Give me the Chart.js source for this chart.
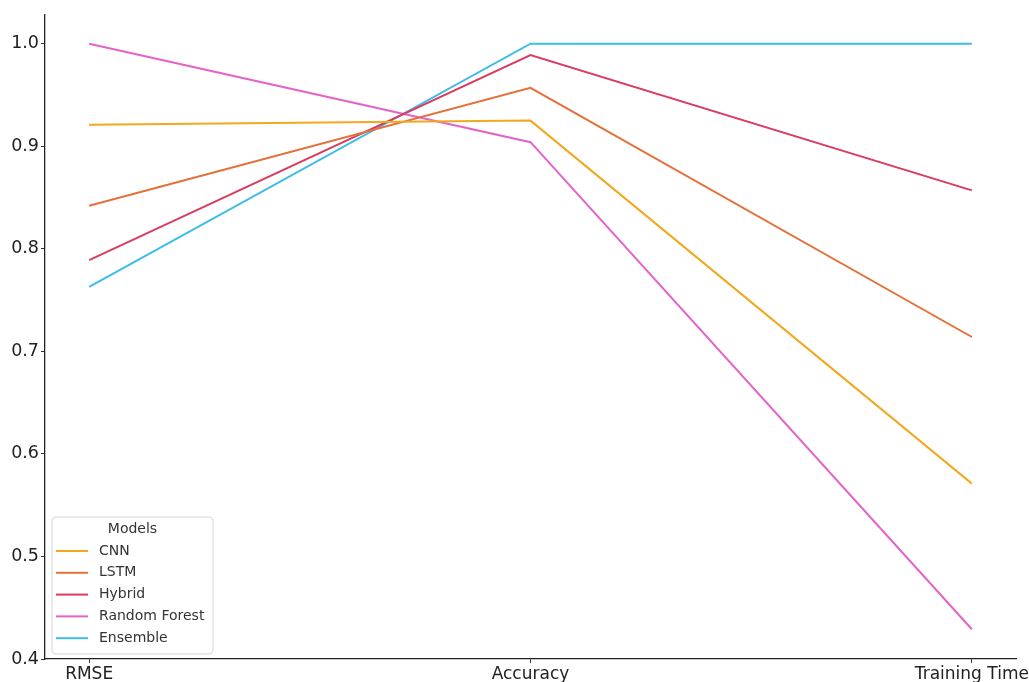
<!DOCTYPE html>
<html>
<head>
<meta charset="utf-8">
<script src="https://cdn.jsdelivr.net/npm/chart.js@4"></script>
<style>
  html, body { margin: 0; padding: 0; background: #fff; }
  #wrap { width: 1029px; height: 682px; position: relative; }
</style>
</head>
<body>
<div id="wrap"><canvas id="c" width="1029" height="682"></canvas></div>
<script>
const categories = ["RMSE", "Accuracy", "Training Time"];
const seriesNames = ["CNN", "LSTM", "Hybrid", "Random Forest", "Ensemble"];
const cnnValues = [0.921, 0.925, 0.571];
const lstmValues = [0.842, 0.957, 0.714];
const hybridValues = [0.789, 0.989, 0.857];
const randomForestValues = [1.0, 0.904, 0.429];
const ensembleValues = [0.763, 1.0, 1.0];
const yTickValues = [0.4, 0.5, 0.6, 0.7, 0.8, 0.9, 1.0];
const legendTitle = "Models";

const seriesValues = [cnnValues, lstmValues, hybridValues, randomForestValues, ensembleValues];
const colors = ["#F2A921", "#E4703A", "#DA3B5F", "#E563C9", "#3DBCE7"];

const datasets = seriesNames.map((name, i) => ({
  label: name,
  data: seriesValues[i].map((v, j) => ({ x: j, y: v })),
  borderColor: colors[i],
  backgroundColor: colors[i],
  borderWidth: 2,
  pointRadius: 0,
  tension: 0,
  fill: false
}));

const FONT = "'DejaVu Sans', sans-serif";

const insideLegend = {
  id: 'insideLegend',
  afterDraw(chart) {
    const ctx = chart.ctx;
    const x = 52, y = 517, w = 161, h = 137, r = 4;
    ctx.save();
    ctx.beginPath();
    ctx.moveTo(x + r, y);
    ctx.lineTo(x + w - r, y); ctx.quadraticCurveTo(x + w, y, x + w, y + r);
    ctx.lineTo(x + w, y + h - r); ctx.quadraticCurveTo(x + w, y + h, x + w - r, y + h);
    ctx.lineTo(x + r, y + h); ctx.quadraticCurveTo(x, y + h, x, y + h - r);
    ctx.lineTo(x, y + r); ctx.quadraticCurveTo(x, y, x + r, y);
    ctx.closePath();
    ctx.fillStyle = 'rgba(255,255,255,0.85)';
    ctx.fill();
    ctx.strokeStyle = '#d6d6d6';
    ctx.lineWidth = 1;
    ctx.stroke();
    ctx.font = "14px " + FONT;
    ctx.fillStyle = '#333';
    ctx.textAlign = 'center';
    ctx.textBaseline = 'middle';
    ctx.fillText(legendTitle, x + w / 2, 529);
    ctx.textAlign = 'left';
    chart.data.datasets.forEach((ds, i) => {
      const yy = 551 + i * 21.8;
      ctx.strokeStyle = ds.borderColor;
      ctx.lineWidth = 2;
      ctx.beginPath();
      ctx.moveTo(56, yy);
      ctx.lineTo(88, yy);
      ctx.stroke();
      ctx.fillStyle = '#333';
      ctx.fillText(ds.label, 99, yy);
    });
    ctx.restore();
  }
};

new Chart(document.getElementById('c'), {
  type: 'line',
  data: { datasets },
  options: {
    responsive: false,
    animation: false,
    layout: { padding: { left: 0, top: 15, right: 13, bottom: 0 } },
    plugins: { legend: { display: false }, tooltip: { enabled: false } },
    scales: {
      x: {
        type: 'linear',
        min: -0.1,
        max: 2.1,
        afterBuildTicks: (s) => { s.ticks = categories.map((_, i) => ({ value: i })); },
        afterFit: (s) => { s.height = 23; s.paddingLeft = 0; s.paddingRight = 0; },
        ticks: {
          autoSkip: false,
          maxRotation: 0,
          padding: 1,
          color: '#222',
          font: { family: FONT, size: 17 },
          callback: (v) => categories[v] ?? ''
        },
        grid: { drawOnChartArea: false, drawTicks: true, tickLength: 4, color: '#333' },
        border: { display: true, color: '#222', width: 1.3 }
      },
      y: {
        min: 0.4,
        max: 1.028,
        afterBuildTicks: (s) => { s.ticks = yTickValues.map(v => ({ value: v })); },
        afterFit: (s) => { s.width = 45; s.paddingTop = 0; s.paddingBottom = 0; },
        ticks: {
          padding: 2,
          color: '#222',
          font: { family: FONT, size: 17.5 },
          callback: (v) => Number(v).toFixed(1)
        },
        grid: { drawOnChartArea: false, drawTicks: true, tickLength: 4, color: '#333' },
        border: { display: true, color: '#222', width: 1.3 }
      }
    }
  },
  plugins: [insideLegend]
});
</script>
</body>
</html>
